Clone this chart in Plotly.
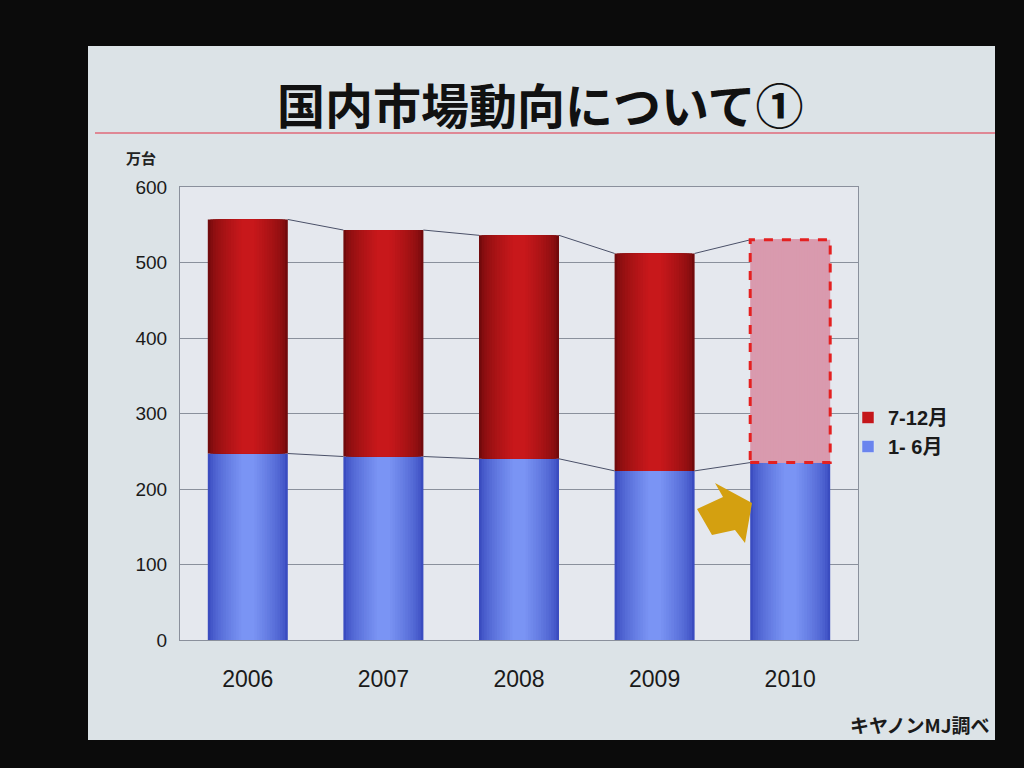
import plotly.graph_objects as go

# --- data (万台) ---
years = ["2006", "2007", "2008", "2009", "2010"]
h1 = [247, 243, 240, 224, 235]      # 1-6月
h2 = [310, 300, 296, 288, 295]      # 7-12月 (2010 is a forecast)
y_ticks = [0, 100, 200, 300, 400, 500, 600]

W, H = 1024, 768
L, R, T, B = 180, 858, 187, 640   # plot area in pixels

def px(x):
    return (x - L) / (R - L)

def py(y):
    return (B - y) / (B - T)

xs = list(range(len(years)))
totals = [a + b for a, b in zip(h1, h2)]
bw = 0.59

fig = go.Figure()

def blend(c1, c2, t):
    a = [int(c1[i:i + 2], 16) for i in (1, 3, 5)]
    b = [int(c2[i:i + 2], 16) for i in (1, 3, 5)]
    return "#" + "".join(f"{round(x + (y - x) * t):02x}" for x, y in zip(a, b))

# cylinder-like shading: stacked layers of narrower, lighter bars
n_layers = 14
fracs = [1 - 0.9 * k / n_layers for k in range(n_layers)]
blue_layers = [blend("#3a4cc0", "#7a94f4", (k / (n_layers - 1)) ** 0.7)
               for k in range(n_layers)]
red_layers = [blend("#720a0c", "#c8181b", (k / (n_layers - 1)) ** 0.6)
              for k in range(n_layers)]
forecast_pink = "#d99aae"

for c, f in zip(blue_layers, fracs):
    fig.add_trace(go.Bar(x=xs, y=h1, base=[0] * len(xs), width=bw * f,
                         marker=dict(color=c, line=dict(width=0)),
                         showlegend=False, hoverinfo="skip"))
for c, f in zip(red_layers, fracs):
    colors = [c] * (len(xs) - 1) + [forecast_pink]
    fig.add_trace(go.Bar(x=xs, y=h2, base=h1, width=bw * f,
                         marker=dict(color=colors, line=dict(width=0)),
                         showlegend=False, hoverinfo="skip"))

# series lines between neighbouring bars
for level in (h1, totals):
    lx, ly = [], []
    for i in range(len(xs) - 1):
        lx += [xs[i] + bw / 2, xs[i + 1] - bw / 2, None]
        ly += [level[i], level[i + 1], None]
    fig.add_trace(go.Scatter(x=lx, y=ly, mode="lines",
                             line=dict(color="#4a5068", width=1),
                             showlegend=False, hoverinfo="skip"))

# legend entries
fig.add_trace(go.Bar(x=[None], y=[None], name="7-12月",
                     marker=dict(color="#c4161a")))
fig.add_trace(go.Bar(x=[None], y=[None], name="1- 6月",
                     marker=dict(color="#6a84ee")))

shapes = [
    # slide
    dict(type="rect", xref="paper", yref="paper", layer="below",
         x0=px(88), x1=px(995), y0=py(740), y1=py(46),
         fillcolor="#dce3e7", line=dict(width=0)),
    # plot area
    dict(type="rect", xref="paper", yref="paper", layer="below",
         x0=0, x1=1, y0=0, y1=1, fillcolor="#e5e8ee", line=dict(width=0)),
    # title rule
    dict(type="line", xref="paper", yref="paper",
         x0=px(95), x1=px(995), y0=py(133), y1=py(133),
         line=dict(color="#e06a7a", width=1.5)),
    # forecast outline for 2010
    dict(type="rect", xref="x", yref="y",
         x0=xs[-1] - bw / 2, x1=xs[-1] + bw / 2,
         y0=h1[-1], y1=totals[-1],
         line=dict(color="#e42020", width=3, dash="dash"),
         fillcolor="rgba(0,0,0,0)"),
    # arrow pointing at the 2010 bar
    dict(type="path", xref="paper", yref="paper",
         path="M {} {} L {} {} L {} {} L {} {} L {} {} L {} {} L {} {} Z".format(
             px(697), py(509), px(723), py(497), px(715), py(483),
             px(752), py(503), px(745), py(543), px(735), py(530),
             px(712), py(535)),
         fillcolor="#d4a010", line=dict(width=0)),
]

annotations = [
    dict(text="国内市場動向について①", xref="paper", yref="paper",
         x=px(540), y=py(103), xanchor="center", yanchor="middle",
         showarrow=False,
         font=dict(family="Noto Sans CJK JP", size=48, color="#111111",
                   weight=700)),
    dict(text="万台", xref="paper", yref="paper", x=px(141), y=py(157),
         xanchor="center", yanchor="middle", showarrow=False,
         font=dict(family="Noto Sans CJK JP", size=15, color="#222222",
                   weight=700)),
    dict(text="キヤノンMJ調べ", xref="paper", yref="paper",
         x=px(991), y=py(724), xanchor="right", yanchor="middle",
         showarrow=False,
         font=dict(family="Noto Sans CJK JP", size=19, color="#1a1a1a",
                   weight=700)),
]

fig.update_layout(
    width=W, height=H,
    margin=dict(l=L, r=W - R, t=T, b=H - B, pad=0),
    paper_bgcolor="#0b0b0b",
    plot_bgcolor="rgba(0,0,0,0)",
    barmode="overlay",
    shapes=shapes,
    annotations=annotations,
    legend=dict(x=px(848), y=py(398), xanchor="left", yanchor="top",
                bgcolor="rgba(0,0,0,0)", tracegroupgap=0,
                font=dict(family="Liberation Sans, Noto Sans CJK JP",
                          size=20, color="#1a1a1a", weight=700),
                itemwidth=30),
    xaxis=dict(range=[-0.5, 4.5], tickvals=xs, ticktext=years,
               showgrid=False, zeroline=False, showline=True, mirror=True,
               linecolor="#8a909c", linewidth=1, ticks="",
               ticklabelstandoff=18,
               tickfont=dict(family="Liberation Sans", size=23,
                             color="#1a1a1a")),
    yaxis=dict(range=[0, 600], tickvals=y_ticks, showgrid=True,
               gridcolor="#8a909c", gridwidth=1, zeroline=False,
               showline=True, mirror=True, linecolor="#8a909c",
               linewidth=1, ticks="", ticklabelstandoff=8,
               tickfont=dict(family="Liberation Sans", size=19,
                             color="#1a1a1a")),
)

fig.write_html("out.html")
